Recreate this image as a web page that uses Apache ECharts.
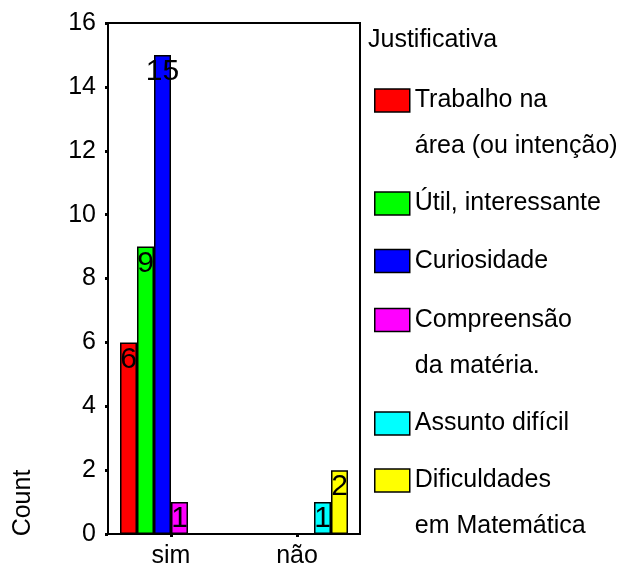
<!DOCTYPE html>
<html>
<head>
<meta charset="utf-8">
<script src="https://cdn.jsdelivr.net/npm/echarts@6/dist/echarts.min.js"></script>
<style>
html,body{margin:0;padding:0;background:#fff;}
#chart{width:629px;height:569px;}
</style>
</head>
<body>
<div id="chart"></div>
<script>
// ---- data ----
var categories = ['sim', 'não'];
var seriesNames = [
  'Trabalho na\nárea (ou intenção)',
  'Útil, interessante',
  'Curiosidade',
  'Compreensão\nda matéria.',
  'Assunto difícil',
  'Dificuldades\nem Matemática'
];
var trabalho = [6, 0];
var util = [9, 0];
var curiosidade = [15, 0];
var compreensao = [1, 0];
var assunto = [0, 1];
var dificuldades = [0, 2];
var seriesValues = [trabalho, util, curiosidade, compreensao, assunto, dificuldades];
var colors = ['#FF0000', '#00FF00', '#0000FF', '#FF00FF', '#00FFFF', '#FFFF00'];
var yTicks = [0, 2, 4, 6, 8, 10, 12, 14, 16];
var legendTitle = 'Justificativa';
var yName = 'Count';

// ---- layout ----
var FONT = 'Liberation Sans, Arial, sans-serif';
var FS = 25;
var legendCenters = [100.5, 203.5, 261, 320, 423.5, 480.5];
var LH = 46;

var chart = echarts.init(document.getElementById('chart'), null, {renderer: 'canvas'});

var series = seriesNames.map(function (name, i) {
  return {
    name: name,
    type: 'bar',
    barWidth: 17,
    barGap: '0%',
    data: seriesValues[i].map(function (v) { return v === 0 ? null : v; }),
    itemStyle: {color: colors[i], borderColor: '#000', borderWidth: 1.5},
    label: {
      show: true,
      position: 'insideTop',
      distance: 2,
      color: '#000',
      fontSize: 30,
      fontFamily: FONT,
      formatter: function (p) { return p.value ? String(p.value) : ''; }
    }
  };
});

var legends = seriesNames.map(function (name, i) {
  var lines = name.split('\n').length;
  // blank leading lines so that the first text line sits level with the swatch
  var totalLines = lines + (lines - 1);
  var top = legendCenters[i] - totalLines * LH / 2;
  return {
    orient: 'vertical',
    left: 374,
    top: top,
    padding: 0,
    itemWidth: 35,
    itemHeight: 23,
    selectedMode: false,
    icon: 'rect',
    itemStyle: {borderColor: '#000', borderWidth: 1.5},
    data: [name],
    formatter: function (n) {
      var pre = '';
      for (var k = 1; k < lines; k++) pre += '\n';
      return pre + n;
    },
    textStyle: {
      fontSize: FS,
      fontFamily: FONT,
      color: '#000',
      lineHeight: LH
    }
  };
});

chart.setOption({
  animation: false,
  backgroundColor: '#fff',
  title: {
    text: legendTitle,
    left: 368,
    top: 28,
    padding: 0,
    textStyle: {fontSize: FS, fontWeight: 'normal', fontFamily: FONT, color: '#000'}
  },
  legend: legends,
  grid: {
    left: 108, top: 23, width: 252, height: 514,
    show: true, borderColor: '#000', borderWidth: 2,
    containLabel: false
  },
  xAxis: {
    type: 'category',
    data: categories,
    axisLine: {lineStyle: {color: '#000', width: 2}},
    axisTick: {show: true, alignWithLabel: true, length: 3, lineStyle: {color: '#000', width: 3}},
    axisLabel: {color: '#000', fontSize: FS, fontFamily: FONT, margin: 10}
  },
  yAxis: {
    type: 'value',
    min: yTicks[0],
    max: yTicks[yTicks.length - 1],
    interval: yTicks[1] - yTicks[0],
    splitLine: {show: false},
    axisLine: {show: true, lineStyle: {color: '#000', width: 2}},
    axisTick: {show: true, length: 3, lineStyle: {color: '#000', width: 3}},
    axisLabel: {color: '#000', fontSize: FS, fontFamily: FONT, margin: 12}
  },
  graphic: [{
    type: 'text',
    x: 23,
    y: 503,
    rotation: Math.PI / 2,
    style: {
      text: yName,
      fontSize: 25,
      fontFamily: FONT,
      fill: '#000',
      align: 'center',
      verticalAlign: 'middle'
    }
  }],
  series: series
});
</script>
</body>
</html>
